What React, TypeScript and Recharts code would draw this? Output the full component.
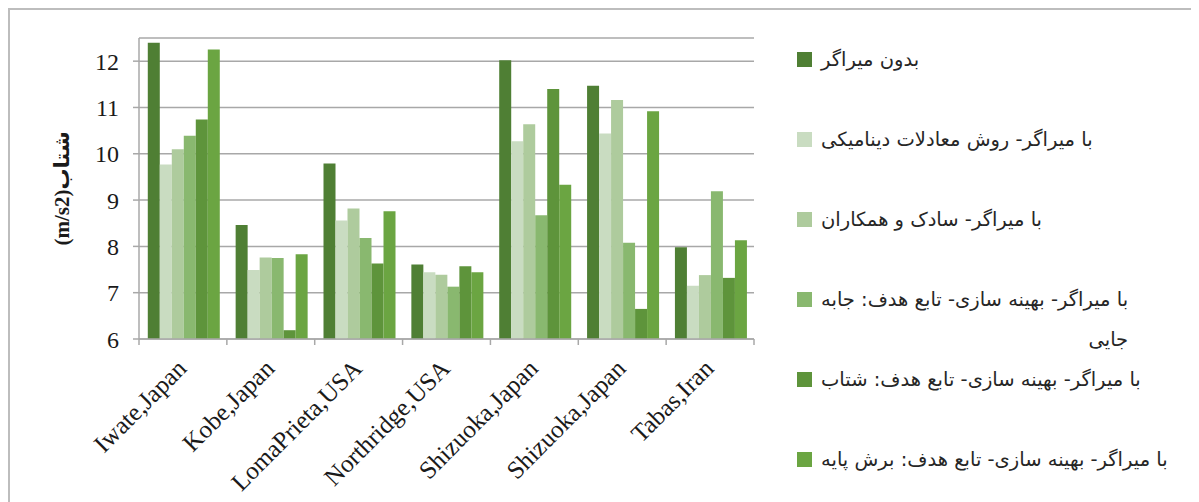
import { Bar, BarChart, CartesianGrid, Legend, XAxis, YAxis } from "recharts";

// earthquake records on the category axis
const records = [
  "Iwate,Japan",
  "Kobe,Japan",
  "LomaPrieta,USA",
  "Northridge,USA",
  "Shizuoka,Japan",
  "Shizuoka,Japan",
  "Tabas,Iran"
];

// peak acceleration (m/s2) per case
const noDamper = [12.4, 8.46, 9.79, 7.61, 12.02, 11.47, 7.98];
const dynamicEq = [9.77, 7.49, 8.56, 7.44, 10.27, 10.44, 7.15];
const sadek = [10.1, 7.76, 8.82, 7.39, 10.64, 11.16, 7.38];
const optDisplacement = [10.39, 7.75, 8.18, 7.13, 8.67, 8.08, 9.19];
const optAcceleration = [10.74, 6.19, 7.63, 7.57, 11.4, 6.65, 7.32];
const optBaseShear = [12.25, 7.83, 8.76, 7.44, 9.33, 10.92, 8.13];

const yTicks = [6, 7, 8, 9, 10, 11, 12];
const yTitle = "شتاب(m/s2)";

const seriesNames = [
  "بدون میراگر",
  "با میراگر- روش معادلات دینامیکی",
  "با میراگر- سادک و همکاران",
  "با میراگر- بهینه سازی- تابع هدف: جابه\nجایی",
  "با میراگر- بهینه سازی- تابع هدف: شتاب",
  "با میراگر- بهینه سازی- تابع هدف: برش پایه"
];
const seriesValues = [noDamper, dynamicEq, sadek, optDisplacement, optAcceleration, optBaseShear];
const seriesColors = ["#4f7f34", "#c9dcc1", "#aecb9d", "#89b86f", "#5e943b", "#6ba542"];

const rows = records.map((name, i) => {
  const row: Record<string, string | number> = { name };
  seriesValues.forEach((vals, s) => {
    row[`s${s}`] = vals[i];
  });
  return row;
});

const GRID = "#a8a8a8";
const SERIF = "'Liberation Serif', 'DejaVu Serif', serif";

function RecordTick(props: any) {
  const { x, y, payload, index, visibleTicksCount, width } = props;
  const half = payload?.offset ?? width / visibleTicksCount / 2;
  const last = index === visibleTicksCount - 1;
  return (
    <g>
      <line x1={x - half} x2={x - half} y1={y} y2={y + 6} stroke={GRID} strokeWidth={1.5} />
      {last && <line x1={x + half} x2={x + half} y1={y} y2={y + 6} stroke={GRID} strokeWidth={1.5} />}
      <text
        x={x + 5}
        y={y + 31}
        transform={`rotate(-45, ${x + 5}, ${y + 31})`}
        textAnchor="end"
        fontFamily={SERIF}
        fontSize={25}
        fill="#1a1a1a"
      >
        {payload.value}
      </text>
    </g>
  );
}

function YTitle(props: any) {
  const { viewBox } = props;
  const x = viewBox.x + 54;
  const y = viewBox.y + viewBox.height / 2;
  return (
    <text
      x={x}
      y={y}
      transform={`rotate(-90, ${x}, ${y})`}
      textAnchor="middle"
      dominantBaseline="central"
      direction="rtl"
      fontFamily="'Liberation Serif', 'DejaVu Sans', serif"
      fontWeight="bold"
      fontSize={21}
      fill="#1a1a1a"
    >
      {yTitle}
    </text>
  );
}

function SeriesLegend() {
  return (
    <div style={{ fontFamily: "'DejaVu Sans', sans-serif", fontSize: 19.5, color: "#262626" }}>
      {seriesNames.map((label, i) => (
        <div key={i} style={{ display: "flex", alignItems: "flex-start", height: 80 }}>
          <span
            style={{
              width: 15,
              height: 15,
              marginTop: 12,
              marginRight: 9,
              background: seriesColors[i],
              flex: "none"
            }}
          />
          <span style={{ direction: "rtl", whiteSpace: "pre-line", lineHeight: "40px" }}>{label}</span>
        </div>
      ))}
    </div>
  );
}

export default function App() {
  return (
    <div
      style={{
        position: "relative",
        width: 1191,
        height: 494,
        borderTop: "2px solid #bdbdbd",
        borderLeft: "2px solid #bdbdbd",
        boxSizing: "border-box",
        background: "#fff"
      }}
    >
      <div style={{ position: "absolute", left: -2, top: -2 }}>
        <BarChart
          width={1191}
          height={494}
          data={rows}
          margin={{ top: 30, right: 45, bottom: 43, left: 0 }}
          barCategoryGap="10%"
          barGap={0}
        >
          <CartesianGrid vertical={false} stroke={GRID} strokeWidth={1.5} />
          <XAxis
            dataKey="name"
            height={120}
            interval={0}
            tickSize={0}
            tickMargin={0}
            tickLine={false}
            axisLine={{ stroke: GRID, strokeWidth: 1.5 }}
            tick={<RecordTick />}
          />
          <YAxis
            width={131}
            domain={[6, 12.5]}
            ticks={yTicks}
            interval={0}
            allowDataOverflow
            tickSize={6}
            tickMargin={14}
            axisLine={{ stroke: GRID, strokeWidth: 1.5 }}
            tickLine={{ stroke: GRID, strokeWidth: 1.5 }}
            tick={{ fontFamily: SERIF, fontSize: 24, fill: "#1a1a1a" }}
            label={<YTitle />}
          />
          <Legend
            layout="vertical"
            align="right"
            verticalAlign="top"
            width={400}
            wrapperStyle={{ left: 789, top: 32, width: 400 }}
            content={<SeriesLegend />}
          />
          {seriesValues.map((_, s) => (
            <Bar
              key={s}
              dataKey={`s${s}`}
              name={seriesNames[s]}
              fill={seriesColors[s]}
              isAnimationActive={false}
            />
          ))}
        </BarChart>
      </div>
    </div>
  );
}
